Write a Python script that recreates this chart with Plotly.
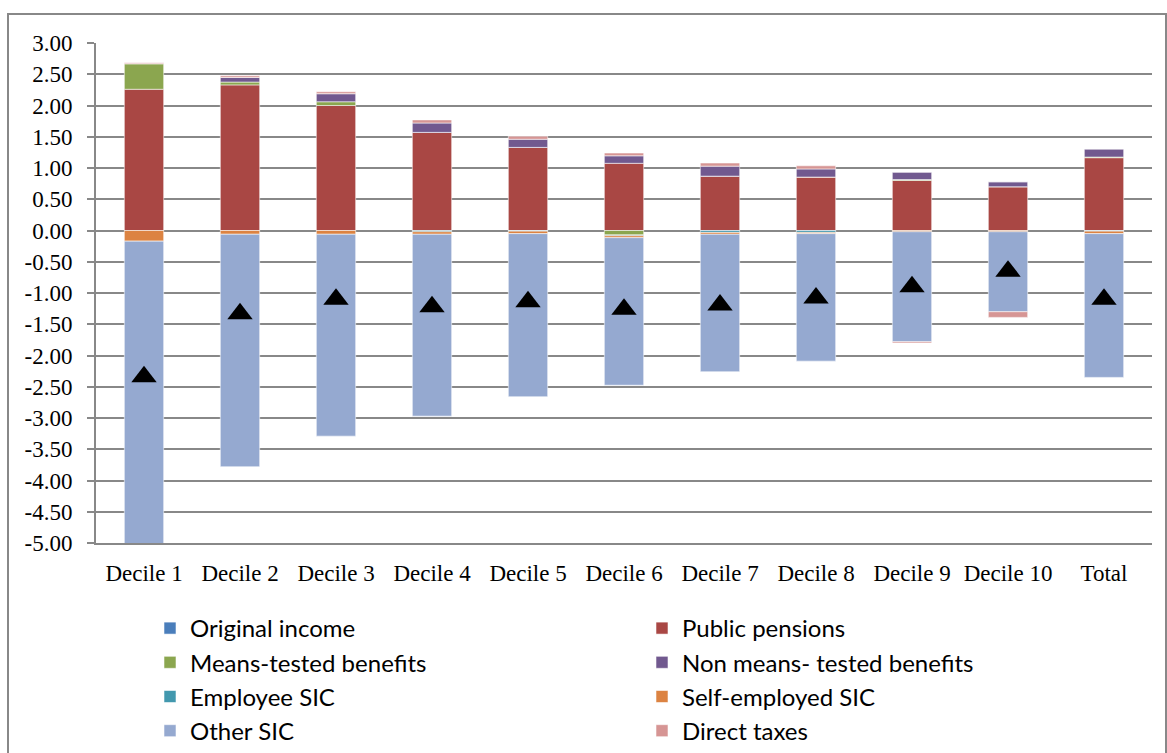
import plotly.graph_objects as go

categories = ["Decile 1", "Decile 2", "Decile 3", "Decile 4", "Decile 5", "Decile 6",
              "Decile 7", "Decile 8", "Decile 9", "Decile 10", "Total"]

original_income = [0, 0, 0, 0, 0, 0, 0, 0, 0, 0, 0]
public_pensions = [2.26, 2.33, 2.00, 1.57, 1.33, 1.075, 0.87, 0.855, 0.80, 0.70, 1.165]
means_tested = [0.41, 0.045, 0.06, 0.0, 0.0, -0.07, 0.0, 0.0, 0.015, 0.0, 0.01]
non_means_tested = [0.0, 0.075, 0.13, 0.15, 0.13, 0.12, 0.16, 0.13, 0.12, 0.08, 0.13]
employee_sic = [0.0, 0.0, 0.0, -0.02, -0.01, -0.015, -0.03, -0.03, 0.0, 0.0, -0.01]
self_employed_sic = [-0.17, -0.06, -0.06, -0.04, -0.04, -0.03, -0.03, -0.02, -0.02, -0.02, -0.04]
other_sic = [-4.85, -3.72, -3.23, -2.91, -2.61, -2.36, -2.20, -2.04, -1.76, -1.28, -2.30]
direct_taxes = [0.015, 0.025, 0.03, 0.05, 0.05, 0.045, 0.05, 0.05, -0.02, -0.09, 0.0]
net_change = [-2.34, -1.33, -1.10, -1.22, -1.14, -1.26, -1.19, -1.08, -0.90, -0.65, -1.10]

y_tick_values = [3.0, 2.5, 2.0, 1.5, 1.0, 0.5, 0.0, -0.5, -1.0, -1.5, -2.0, -2.5,
                 -3.0, -3.5, -4.0, -4.5, -5.0]
y_tick_labels = ["3.00", "2.50", "2.00", "1.50", "1.00", "0.50", "0.00", "-0.50", "-1.00",
                 "-1.50", "-2.00", "-2.50", "-3.00", "-3.50", "-4.00", "-4.50", "-5.00"]

series = [
    ("Original income", original_income, "#4A7EBB"),
    ("Public pensions", public_pensions, "#A94744"),
    ("Means-tested benefits", means_tested, "#8BA64F"),
    ("Non means- tested benefits", non_means_tested, "#71598F"),
    ("Employee SIC", employee_sic, "#4298AE"),
    ("Self-employed SIC", self_employed_sic, "#DC8342"),
    ("Other SIC", other_sic, "#95A9D0"),
    ("Direct taxes", direct_taxes, "#D69594"),
]

GRID = "#888888"

fig = go.Figure()
for name, vals, col in series:
    fig.add_trace(go.Bar(
        x=categories, y=vals, name=name,
        marker=dict(color=col, line=dict(color="rgba(255,255,255,0.55)", width=1)),
    ))

fig.add_trace(go.Scatter(
    x=categories, y=net_change, mode="markers", showlegend=False,
    marker=dict(symbol="triangle-up", size=22, color="black"),
))

# border of the chart area
L, R, T, B, W, H = 96, 15, 43, 210, 1167, 753
pw, ph = W - L - R, H - T - B
fig.add_shape(type="rect", xref="paper", yref="paper",
              x0=(8 - L) / pw, x1=(W - 1 - L) / pw,
              y0=-(H + 10 - (H - B)) / ph, y1=1 + (T - 14) / ph,
              line=dict(color=GRID, width=2), layer="below")

n = len(categories)
fig.update_layout(
    width=W, height=H,
    margin=dict(l=L, r=R, t=T, b=B, autoexpand=False),
    paper_bgcolor="white", plot_bgcolor="white",
    barmode="relative", bargap=0.59,
    font=dict(family="Liberation Serif", size=23, color="black"),
    xaxis=dict(range=[-0.5, n - 0.5], showgrid=False, showline=True,
               linecolor=GRID, linewidth=2,
               ticks="", tickfont=dict(family="Liberation Serif", size=23),
               ticklabelstandoff=8),
    xaxis2=dict(overlaying="x", anchor="free", position=5 / 8, side="bottom",
                range=[-0.5, n - 0.5], tickmode="array",
                tickvals=[i - 0.5 for i in range(n + 1)],
                showticklabels=False, ticks="outside", ticklen=7, tickwidth=2,
                tickcolor=GRID, showline=True, linecolor=GRID, linewidth=2,
                showgrid=False, zeroline=False),
    yaxis=dict(range=[-5, 3], tickmode="array", tickvals=y_tick_values,
               ticktext=y_tick_labels, showgrid=True, gridcolor=GRID, gridwidth=2,
               showline=True, linecolor=GRID, linewidth=2, ticks="outside",
               ticklen=7, tickwidth=2, tickcolor=GRID, zeroline=False,
               tickfont=dict(family="Liberation Serif", size=23),
               ticklabelstandoff=10),
    legend=dict(orientation="h", x=(150 - L) / pw, y=-(606 - (H - B)) / ph,
                xanchor="left", yanchor="top", entrywidth=447,
                font=dict(family="Lato", size=24, color="black"),
                traceorder="normal", bgcolor="rgba(0,0,0,0)"),
)

fig.write_html("out.html")
